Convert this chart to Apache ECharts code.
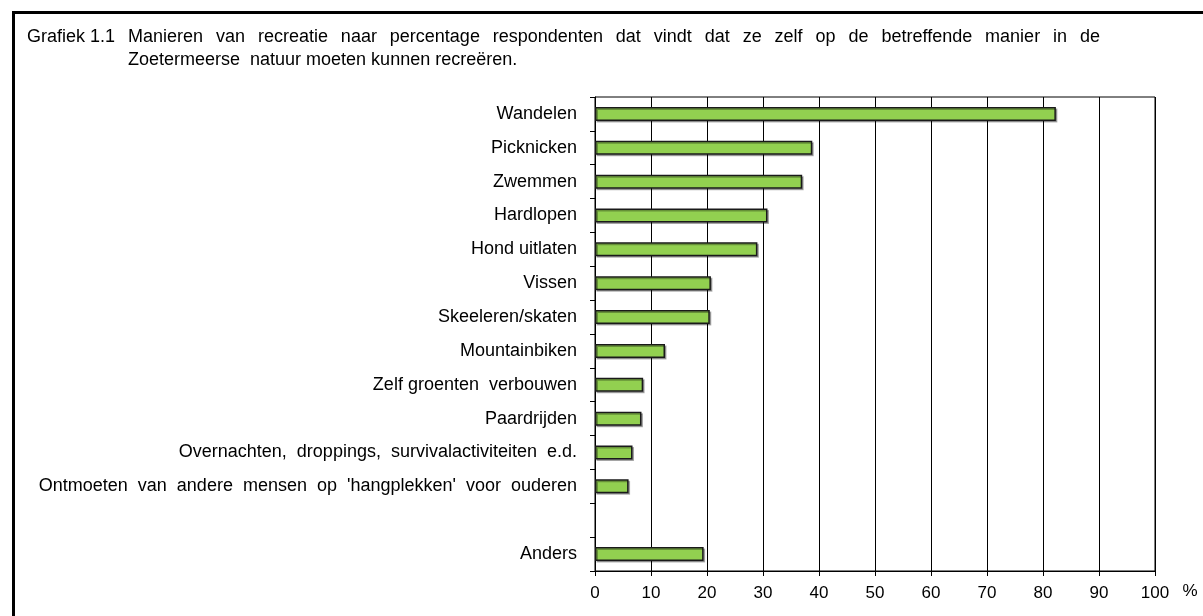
<!DOCTYPE html>
<html>
<head>
<meta charset="utf-8">
<script src="https://cdn.jsdelivr.net/npm/echarts@6/dist/echarts.min.js"></script>
<style>
  html, body { margin: 0; padding: 0; background: #fff; }
  #chart { width: 1203px; height: 616px; }
</style>
</head>
<body>
<div id="chart"></div>
<script>
// categories, top to bottom (the empty one is the gap above "Anders")
const categories = [
  'Wandelen',
  'Picknicken',
  'Zwemmen',
  'Hardlopen',
  'Hond uitlaten',
  'Vissen',
  'Skeeleren/skaten',
  'Mountainbiken',
  'Zelf groenten  verbouwen',
  'Paardrijden',
  'Overnachten,  droppings,  survivalactiviteiten  e.d.',
  "Ontmoeten  van  andere  mensen  op  'hangplekken'  voor  ouderen",
  '',
  'Anders'
];

// percentage respondents
const values = [82.3, 38.8, 37.0, 30.8, 29.0, 20.7, 20.5, 12.5, 8.6, 8.3, 6.7, 6.0, null, 19.4];

const titleLabel = 'Grafiek 1.1';
const titleLines = [
  'Manieren van recreatie naar percentage respondenten dat vindt dat ze zelf op de betreffende manier in de',
  'Zoetermeerse  natuur moeten kunnen recreëren.'
];
const unitLabel = '%';

const font = "'Liberation Sans', Arial, sans-serif";
const titleFont = '18px ' + font;

// first title line is justified (like in the Word original)
const ctx = document.createElement('canvas').getContext('2d');
ctx.font = titleFont;
const justifyLine = (text, x0, x1, y) => {
  const words = text.split(' ');
  const widths = words.map(w => ctx.measureText(w).width);
  const total = widths.reduce((a, b) => a + b, 0);
  const gap = (x1 - x0 - total) / (words.length - 1);
  let x = x0;
  return words.map((w, i) => {
    const el = {
      type: 'text',
      x: x,
      y: y,
      style: { text: w, font: titleFont, fill: '#000', verticalAlign: 'middle' }
    };
    x += widths[i] + gap;
    return el;
  });
};

const chart = echarts.init(document.getElementById('chart'), null, { renderer: 'canvas' });

const option = {
  animation: false,
  backgroundColor: '#fff',
  grid: {
    left: 595,
    right: 48,
    top: 97,
    bottom: 45,
    show: true,
    borderColor: '#000',
    borderWidth: 1,
    outerBoundsMode: 'none'
  },
  xAxis: {
    type: 'value',
    min: 0,
    max: 100,
    interval: 10,
    axisLine: { show: true, lineStyle: { color: '#000', width: 1 } },
    axisTick: { show: true, length: 5, lineStyle: { color: '#000' } },
    axisLabel: { fontFamily: font, fontSize: 17, color: '#000', margin: 14 },
    splitLine: { show: true, lineStyle: { color: '#000', width: 1 } }
  },
  yAxis: {
    type: 'category',
    inverse: true,
    data: categories,
    axisLine: { show: true, lineStyle: { color: '#000', width: 1 } },
    axisTick: { show: true, length: 5, lineStyle: { color: '#000' } },
    axisLabel: { fontFamily: font, fontSize: 18, color: '#000', margin: 18 },
    splitLine: { show: false }
  },
  series: [
    {
      type: 'bar',
      data: values,
      barWidth: 14,
      itemStyle: {
        color: '#92d050',
        borderColor: '#1a1a1a',
        borderWidth: 1.5,
        shadowColor: 'rgba(0,0,0,0.3)',
        shadowOffsetX: 1.5,
        shadowOffsetY: 1.5,
        shadowBlur: 0
      }
    }
  ],
  graphic: [
    {
      // outer frame, runs off the right and bottom edges
      type: 'rect',
      shape: { x: 13.5, y: 12.5, width: 1300, height: 700 },
      style: { fill: 'none', stroke: '#000', lineWidth: 3 },
      silent: true
    },
    {
      type: 'text',
      x: 27,
      y: 37,
      style: { text: titleLabel, font: titleFont, fill: '#000', verticalAlign: 'middle' }
    },
    ...justifyLine(titleLines[0], 128, 1100, 37),
    {
      type: 'text',
      x: 128,
      y: 60,
      style: { text: titleLines[1], font: titleFont, fill: '#000', verticalAlign: 'middle' }
    },
    {
      type: 'text',
      x: 1190,
      y: 591,
      style: { text: unitLabel, font: '17px ' + font, fill: '#000', align: 'center', verticalAlign: 'middle' }
    }
  ]
};

chart.setOption(option);
</script>
</body>
</html>
